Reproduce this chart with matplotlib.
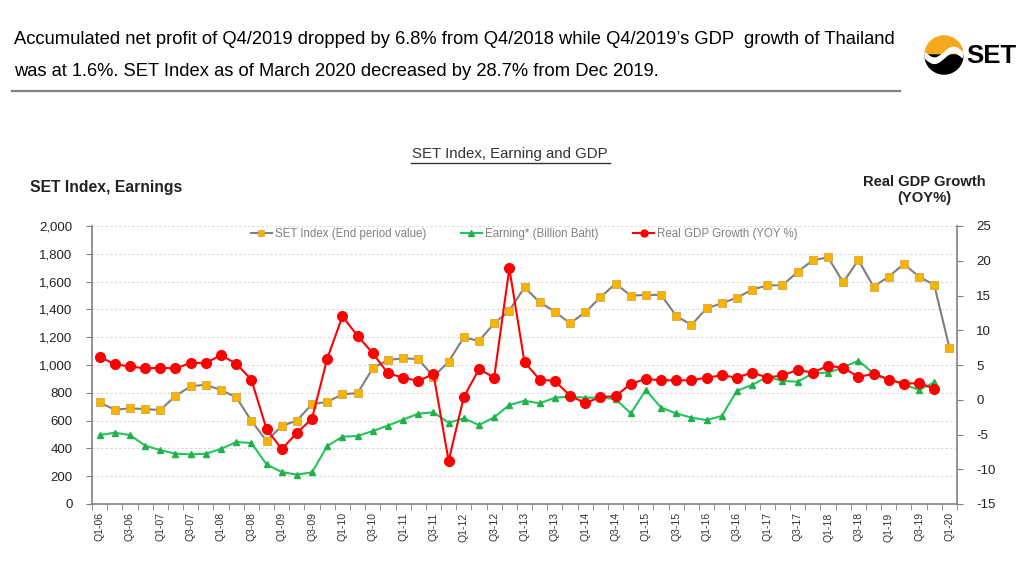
import matplotlib
matplotlib.use("Agg")
import matplotlib.pyplot as plt
import numpy as np
from matplotlib.patches import Wedge, Polygon
from matplotlib.lines import Line2D

plt.rcParams['font.family'] = ['Liberation Sans', 'DejaVu Sans']

years = list(range(6, 21))
quarters = [f"Q{q}-{y:02d}" for y in years for q in (1, 2, 3, 4)][:57]

set_index = [731, 678, 688, 683, 676, 777, 847, 858, 820, 768, 600, 453,
             561, 600, 719, 734, 789, 798, 976, 1036, 1048, 1043, 916, 1024,
             1199, 1173, 1300, 1391, 1559, 1451, 1384, 1300, 1379, 1487, 1585, 1499,
             1504, 1504, 1353, 1288, 1408, 1444, 1484, 1542, 1573, 1573, 1671, 1753,
             1775, 1595, 1755, 1564, 1635, 1727, 1635, 1576, 1125]

earning = [496, 513, 496, 420, 388, 362, 357, 362, 396, 446, 439, 285,
           230, 211, 228, 417, 484, 489, 525, 564, 607, 650, 659, 585,
           616, 568, 624, 712, 743, 724, 765, 772, 765, 765, 755, 652,
           820, 693, 652, 621, 604, 633, 815, 856, 916, 885, 880, 940,
           945, 983, 1031, 940, 899, 861, 820, 875, None]

gdp = [6.2, 5.1, 4.8, 4.5, 4.6, 4.5, 5.3, 5.3, 6.4, 5.2, 2.9, -4.2,
       -7.1, -4.8, -2.7, 5.9, 12.0, 9.2, 6.7, 3.8, 3.2, 2.7, 3.7, -8.8,
       0.4, 4.4, 3.2, 18.9, 5.4, 2.9, 2.7, 0.6, -0.5, 0.4, 0.5, 2.3,
       3.0, 2.8, 2.8, 2.8, 3.2, 3.5, 3.2, 3.9, 3.2, 3.5, 4.3, 3.9,
       4.9, 4.6, 3.3, 3.7, 2.9, 2.3, 2.4, 1.6, None]

W, H = 1024, 564
fig = plt.figure(figsize=(W / 100, H / 100), dpi=100)

def fx(px):
    return px / W

def fy(py):
    return 1 - py / H

# Header text
fig.text(fx(14), fy(40), "Accumulated net profit of Q4/2019 dropped by 6.8% from Q4/2018 while Q4/2019\u2019s GDP  growth of Thailand",
         fontsize=13.2, va='center', ha='left', color='black')
fig.text(fx(14), fy(72), "was at 1.6%. SET Index as of March 2020 decreased by 28.7% from Dec 2019.",
         fontsize=13.2, va='center', ha='left', color='black')
fig.add_artist(Line2D([fx(12), fx(900)], [fy(91), fy(91)], color='#808080', lw=1.6))

# Logo
lax = fig.add_axes([fx(924), fy(75), fx(40), fy(0) - fy(40)])
lax.set_xlim(-1.05, 1.05)
lax.set_ylim(-1.05, 1.05)
lax.set_aspect('equal')
lax.axis('off')
lax.add_patch(Wedge((0, 0), 1, 0, 180, color='#F5A81C'))
lax.add_patch(Wedge((0, 0), 1, 180, 360, color='black'))
t = np.linspace(-1, 1, 100)
lim = np.sqrt(1 - t ** 2)
wave_top = 0.12 + 0.28 * np.sin(np.pi * t)
wave_bot = wave_top - 0.28
pts = np.vstack([np.column_stack([t, np.clip(wave_top, -lim, lim)]),
                 np.column_stack([t[::-1], np.clip(wave_bot[::-1], -lim[::-1], lim[::-1])])])
lax.add_patch(Polygon(pts, closed=True, color='white'))
fig.text(fx(966), fy(56), "SET", fontsize=18.5, fontweight='bold', va='center', ha='left', color='black')

# Chart title
fig.text(fx(510), fy(154), "SET Index, Earning and GDP", fontsize=10.8, ha='center', va='center', color='#333333')
fig.add_artist(Line2D([fx(411), fx(610)], [fy(163), fy(163)], color='#333333', lw=1.0))

fig.text(fx(30), fy(188), "SET Index, Earnings", fontsize=11.3, fontweight='bold', ha='left', va='center', color='#222222')
fig.text(fx(924), fy(182), "Real GDP Growth", fontsize=10.6, fontweight='bold', ha='center', va='center', color='#222222')
fig.text(fx(924), fy(198), "(YOY%)", fontsize=10.6, fontweight='bold', ha='center', va='center', color='#222222')

# Main axes
left, right, top, bottom = 92, 957, 226, 504
ax = fig.add_axes([fx(left), fy(bottom), fx(right - left), fy(top) - fy(bottom)])
ax2 = ax.twinx()

x = np.arange(len(quarters))
earn = np.array([np.nan if v is None else v for v in earning], dtype=float)
g = np.array([np.nan if v is None else v for v in gdp], dtype=float)

l1, = ax.plot(x, set_index, color='#7F7F7F', lw=1.5, marker='s', markersize=5.5,
              markerfacecolor='#F7B500', markeredgecolor='#D9A441', markeredgewidth=0.6,
              label='SET Index (End period value)', zorder=3)
l2, = ax.plot(x, earn, color='#22C55E', lw=1.5, marker='^', markersize=4.5,
              markerfacecolor='#22B04B', markeredgecolor='#22B04B',
              label='Earning* (Billion Baht)', zorder=3)
l3, = ax2.plot(x, g, color='#FF0000', lw=1.5, marker='o', markersize=7,
               markerfacecolor='#FF0000', markeredgecolor='#FF0000',
               label='Real GDP Growth (YOY %)', zorder=4)

ax.set_xlim(-0.5, len(quarters) - 0.5)
ax.set_ylim(0, 2000)
ax.set_yticks(range(0, 2001, 200))
ax.set_yticklabels([f"{v:,}" for v in range(0, 2001, 200)], fontsize=9.5, color='#222222')
ax2.set_ylim(-15, 25)
ax2.set_yticks(range(-15, 26, 5))
ax2.set_yticklabels([str(v) for v in range(-15, 26, 5)], fontsize=9.5, color='#222222')

ax.set_xticks(x[::2])
ax.set_xticklabels(quarters[::2], rotation=90, fontsize=7.5, color='#333333')
ax.set_xticks(np.arange(-0.5, len(quarters), 1), minor=True)
ax.tick_params(axis='x', which='major', length=0, pad=6)
ax.tick_params(axis='x', which='minor', length=4, color='#808080', direction='out')
ax.tick_params(axis='y', length=4, color='#808080', direction='out', pad=10)
ax2.tick_params(axis='y', length=4, color='#808080', direction='out', pad=10)

ax.grid(axis='y', color='#D8D8D8', linestyle=(0, (2, 2)), lw=0.8)
ax.set_axisbelow(True)
for sp in ('top',):
    ax.spines[sp].set_visible(False)
    ax2.spines[sp].set_visible(False)
ax2.spines['right'].set_visible(True)
ax2.spines['right'].set_color('#808080')
ax2.spines['right'].set_linewidth(1.2)
ax.spines['left'].set_color('#808080')
ax.spines['left'].set_linewidth(1.2)
ax.spines['bottom'].set_color('#808080')
ax.spines['bottom'].set_linewidth(1.2)
ax.spines['right'].set_visible(False)
ax2.spines['left'].set_visible(False)
ax2.spines['bottom'].set_visible(False)

leg = ax2.legend(handles=[l1, l2, l3], loc='upper center', bbox_to_anchor=(0.5, 1.03),
                 ncol=3, frameon=False, fontsize=8.3, labelcolor='#808080',
                 handlelength=1.8, columnspacing=3.0, handletextpad=0.3)
for h in leg.legend_handles:
    h.set_markersize(5)

fig.savefig("out.png", dpi=100)
